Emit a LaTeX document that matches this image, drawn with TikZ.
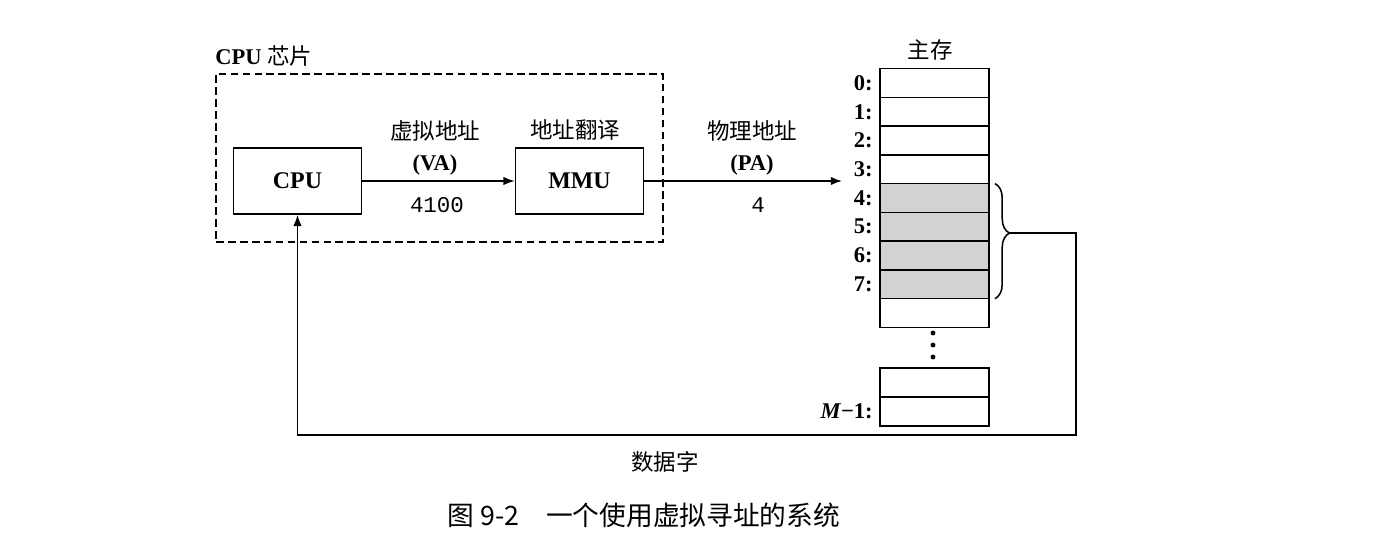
\documentclass[tikz,border=0pt]{standalone}
\usepackage{fontspec}
\setmainfont{Liberation Serif}
\setmonofont{Liberation Mono}
\newfontfamily\cjk{Noto Sans CJK SC}
\usepackage{tikz}
\usetikzlibrary{arrows.meta,positioning,calc,decorations.pathreplacing}
\tikzset{
  unitbox/.style={rectangle, draw, line width=1.1pt, minimum width=3.2cm,
                  minimum height=1.65cm, inner sep=0pt, font=\fontsize{17}{20}\selectfont\bfseries},
  memcell/.style={rectangle, draw, line width=1.1pt, minimum width=2.725cm,
                  minimum height=0.72cm, inner sep=0pt, outer sep=0pt},
  arr/.style={-{Latex[length=8pt,width=6pt]}, line width=1.1pt},
}

\begin{document}
\begin{tikzpicture}[
    x=0.025cm, y=-0.025cm,
    lbl/.style={inner sep=0pt, font=\fontsize{16}{19}\selectfont\cjk},
    abbr/.style={inner sep=0pt, font=\fontsize{16}{19}\selectfont\bfseries},
    addr/.style={inner sep=0pt, anchor=east, font=\fontsize{16}{19}\selectfont\bfseries},
    dot/.style={circle, fill, inner sep=0pt, minimum size=3.5pt},
    chipbox/.style={rectangle, draw, line width=1.1pt, dash pattern=on 5.5pt off 3pt,
                    minimum width=11.175cm, minimum height=4.2cm, inner sep=0pt},
    brace/.style={decorate, line width=1.1pt,
                  decoration={brace, amplitude=0.36cm, aspect=0.43}}
  ]
    \useasboundingbox (0,0) rectangle (1390,544);
    % CPU chip
    \node[chipbox] (chip) at (439.5,158) {};
    \node[abbr, anchor=west] (chipname) at (215,56) {CPU {\cjk\mdseries 芯片}};
    \node[unitbox] (cpu) at (297.5,181) {CPU};
    \node[unitbox] (mmu) at (579.5,181) {MMU};
    \node[lbl] (transl) at (575,130) {地址翻译};
    % virtual address
    \node[lbl] (vaname) at (435,131) {虚拟地址};
    \node[abbr] (vaabbr) at (435,165) {(VA)};
    \node[inner sep=0pt, font=\fontsize{16}{19}\selectfont\ttfamily] (vaval) at (437,205) {4100};
    \draw[arr] (cpu) -- (mmu);
    % physical address
    \node[lbl] (paname) at (752,131) {物理地址};
    \node[abbr] (paabbr) at (752,165) {(PA)};
    \node[inner sep=0pt, font=\fontsize{16}{19}\selectfont\ttfamily] (paval) at (758,205) {4};
    \coordinate (pa) at (842,181);
    \draw[arr] (mmu) -- (pa);
    % main memory
    \node[lbl] (memname) at (930,50) {主存};
    \foreach \i [evaluate=\i as \g using {int((\i>3)*(\i<8)*35)}] in {0,...,8}
      \node[memcell, fill=gray!\g] (c\i) at (934.5,{83+28.75*\i}) {};
    \foreach \i in {0,...,7}
      \node[addr, left=0.175cm of c\i.west] (l\i) {\i:};
    \foreach \k in {0,1,2}
      \node[dot] (dot\k) at (933,{333+12*\k}) {};
    \node[memcell] (c9) at (934.5,382.5) {};
    \node[memcell] (c10) at (934.5,411.5) {};
    \node[addr, left=0.175cm of c10.west] (l10) {\textit{M}−1:};
    % data word back to CPU
    \draw[brace] ($(c4.north east)+(6,0)$) -- ($(c7.south east)+(6,0)$);
    \coordinate (btip) at ($(c4.north east)!0.43!(c7.south east)+(21,0)$);
    \coordinate (rc) at (1076,435);
    \draw[arr] (btip) -| (rc) -| (cpu.south);
    \node[lbl] (word) at (665,462) {数据字};
    \node[inner sep=0pt, font=\fontsize{19}{22}\selectfont\cjk] (caption) at (644,515) {图 9-2\quad 一个使用虚拟寻址的系统};
  \end{tikzpicture}
\end{document}
